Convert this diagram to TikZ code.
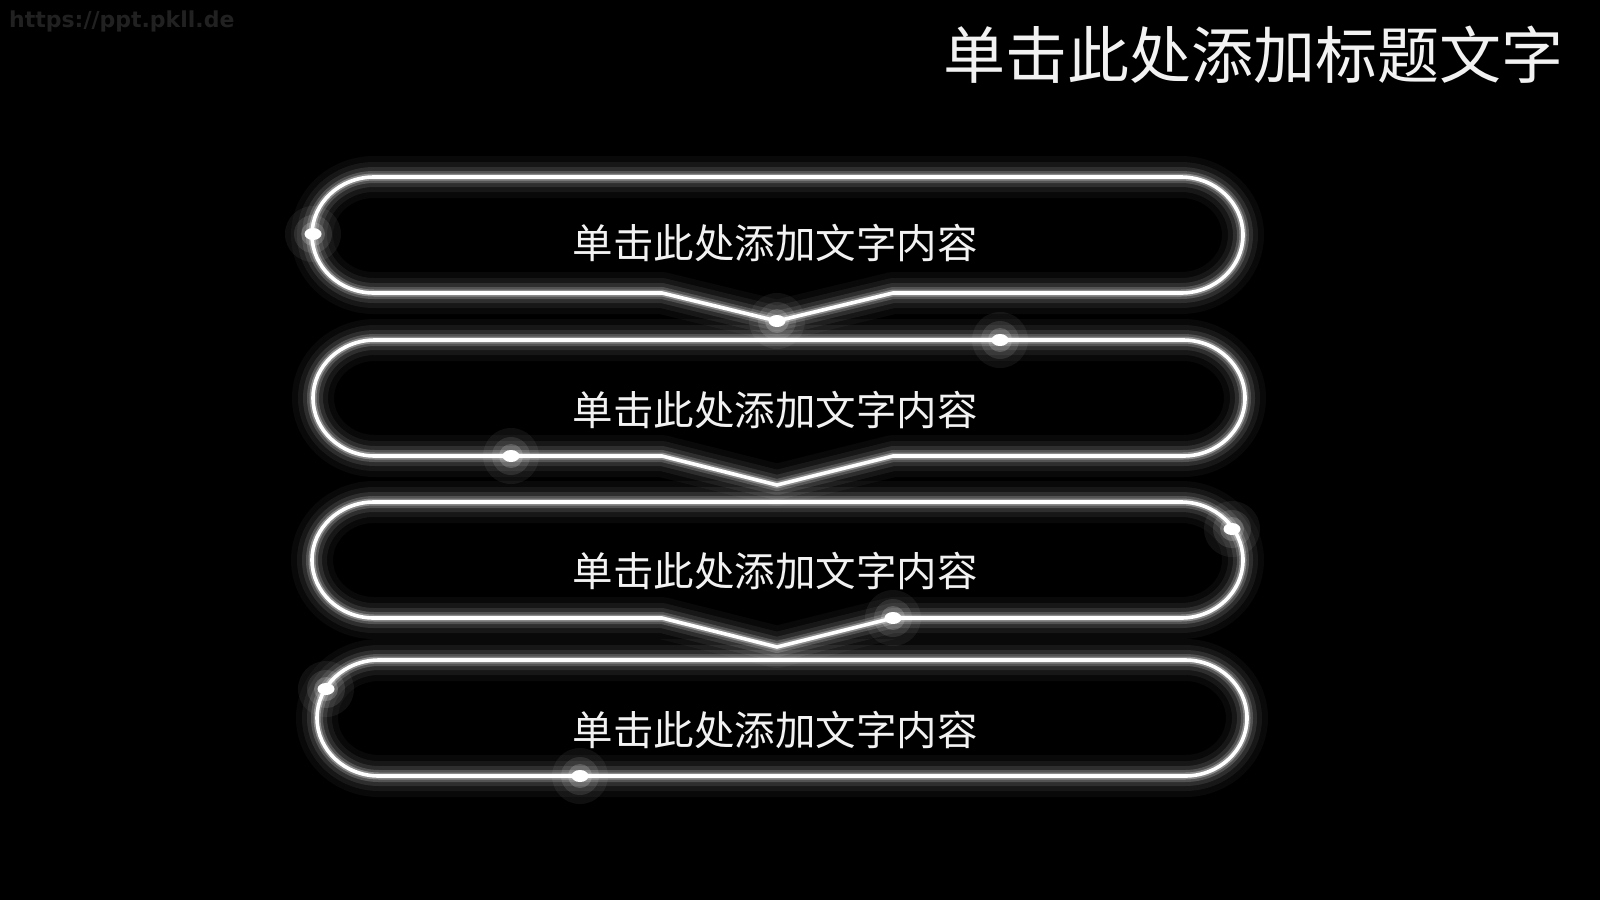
\documentclass[tikz,border=0pt]{standalone}
\usepackage{fontspec}
\newfontfamily\cjk{Noto Sans CJK SC}
\newfontfamily\wmfont{DejaVu Sans}
\newcommand\nboxpath[5]{(#1+62,#3) -- (#2-62,#3) arc[start angle=90,end angle=-90,x radius=62pt,y radius=58pt] -- (893,#4) -- (777,#4+#5) -- (662,#4) -- (#1+62,#4) arc[start angle=270,end angle=90,x radius=62pt,y radius=58pt] -- cycle}
\newcommand\pboxpath[4]{(#1+62,#3) -- (#2-62,#3) arc[start angle=90,end angle=-90,x radius=62pt,y radius=58pt] -- (#1+62,#4) arc[start angle=270,end angle=90,x radius=62pt,y radius=58pt] -- cycle}
\tikzset{
  neon/.style={draw=white,line width=3.6pt,line join=round},
  g1/.style={draw=white,line width=42pt,opacity=0.035,line join=round},
  g2/.style={draw=white,line width=30pt,opacity=0.06,line join=round},
  g3/.style={draw=white,line width=20pt,opacity=0.1,line join=round},
  g4/.style={draw=white,line width=12pt,opacity=0.18,line join=round},
  g5/.style={draw=white,line width=7pt,opacity=0.32,line join=round},
  lbl/.style={text=white!95!black,font=\cjk\fontsize{40.5}{48}\selectfont,inner sep=0pt},
}
\newcommand\glowdot[2]{%
  \fill[white,opacity=0.06] (#1,#2) circle[radius=28pt];
  \fill[white,opacity=0.10] (#1,#2) circle[radius=19pt];
  \fill[white,opacity=0.18] (#1,#2) circle[radius=12pt];
  \fill[white] (#1,#2) ellipse[x radius=8.5pt,y radius=6pt];
}
\begin{document}
\begin{tikzpicture}[x=1pt,y=-1pt]
\fill[black] (0,0) rectangle (1600,900);
\useasboundingbox (0,0) rectangle (1600,900);
\node[anchor=west,inner sep=0pt,text=white!13!black,font=\wmfont\bfseries\fontsize{22}{26}\selectfont] (wm) at (9,21) {https://ppt.pkll.de};
\node[anchor=east,inner sep=0pt,text=white!95!black,font=\cjk\fontsize{62}{70}\selectfont] (title) at (1564,55) {单击此处添加标题文字};
% glows
\foreach \s in {g1,g2,g3,g4,g5}{
  \draw[\s] \nboxpath{312}{1243}{177}{293}{28};
  \draw[\s] \nboxpath{313}{1245}{340}{456}{29};
  \draw[\s] \nboxpath{312}{1243}{502}{618}{29};
  \draw[\s] \pboxpath{317}{1247}{660}{776};
}
% lines
\draw[neon] \nboxpath{312}{1243}{177}{293}{28};
\draw[neon] \nboxpath{313}{1245}{340}{456}{29};
\draw[neon] \nboxpath{312}{1243}{502}{618}{29};
\draw[neon] \pboxpath{317}{1247}{660}{776};
% dots
\glowdot{313}{234}
\glowdot{777}{321}
\glowdot{1000}{340}
\glowdot{511}{456}
\glowdot{1232}{529}
\glowdot{893}{618}
\glowdot{326}{689}
\glowdot{580}{776}
% labels
\node[lbl] (t1) at (775,243) {单击此处添加文字内容};
\node[lbl] (t2) at (775,410) {单击此处添加文字内容};
\node[lbl] (t3) at (775,571) {单击此处添加文字内容};
\node[lbl] (t4) at (775,730) {单击此处添加文字内容};
\end{tikzpicture}
\end{document}
